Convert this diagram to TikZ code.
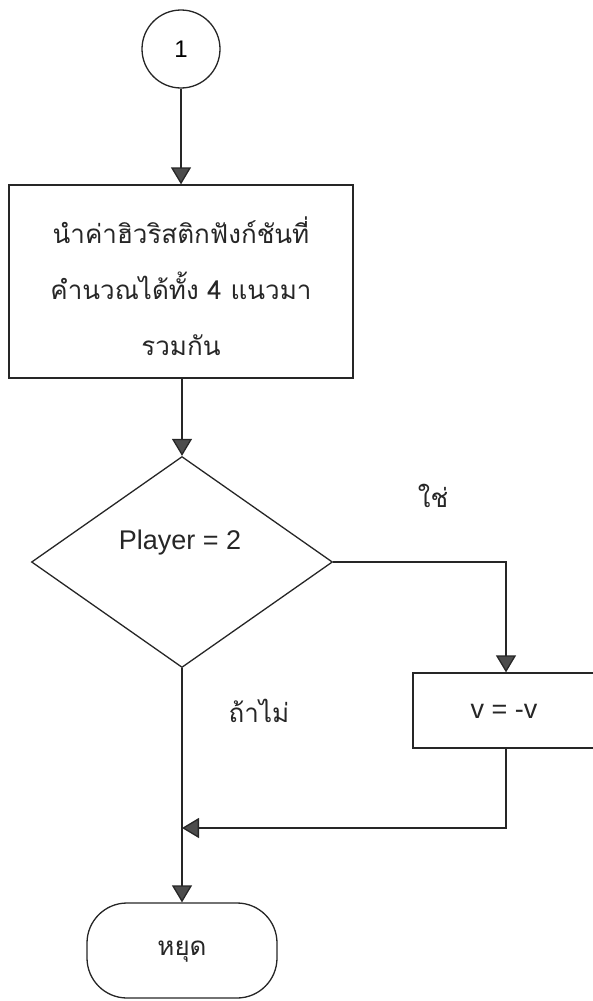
\documentclass[tikz,border=0pt]{standalone}
\usepackage{fontspec}
\setmainfont{Liberation Sans}
\newfontfamily\thaifont[Script=Thai]{Loma}
\usetikzlibrary{shapes.geometric,arrows.meta,calc}

\tikzset{
  ink/.style={draw=black!85, line width=1.3pt},
  flow/.style={ink, -{Triangle[width=20pt,length=17pt,fill=black!70]}},
  connector/.style={ink, circle, minimum size=78pt, inner sep=0pt, font=\fontsize{24}{28}\selectfont},
  procbox/.style={ink, rectangle, inner sep=0pt},
  decision/.style={ink, diamond, inner sep=0pt},
  terminal/.style={ink, rectangle, rounded corners=40pt, inner sep=0pt},
  thaitext/.style={text=black!85, font=\thaifont\fontsize{26}{56}\selectfont, align=center},
  latintext/.style={text=black!85, font=\fontsize{27}{32}\selectfont},
}

\begin{document}
\begin{tikzpicture}[x=1pt, y=-1pt]
  \useasboundingbox (0,0) rectangle (593,1001);
  \clip (0,0) rectangle (593,1001);

  % connector and processing box
  \node[connector] (c1) at (181,49) {1};
  \node[procbox, minimum width=344pt, minimum height=193pt] (b1) at (181,281.5) {};
  \node[thaitext] (b1txt) at (181,286) {นำค่าฮิวริสติกฟังก์ชันที่\\คำนวณได้ทั้ง 4 แนวมา\\รวมกัน};

  % decision
  \node[decision, minimum width=301pt, minimum height=211pt] (d1) at (182,562) {};
  \node[latintext] (d1txt) at (180,543) {Player = 2};
  \node[thaitext] (yes) at (433,496) {ใช่};
  \node[thaitext] (no) at (259,711) {ถ้าไม่};

  % negate branch
  \node[procbox, minimum width=186pt, minimum height=75pt] (b2) at (506,710.5) {};
  \node[latintext, font=\fontsize{27}{32}\selectfont] (b2txt) at (504,711) {v = -v};

  % end
  \node[terminal, minimum width=190pt, minimum height=95pt] (t1) at (182,950.5) {};
  \node[thaitext] (t1txt) at (182,952) {หยุด};

  \coordinate (m) at (182,828);

  \draw[flow] (c1.south) -- (c1.south |- b1.north);
  \draw[flow] (b1.south -| d1.north) -- (d1.north);
  \draw[flow] (d1.east) -| (b2.north);
  \draw[flow] (b2.south) |- (m);
  \draw[flow] (d1.south) -- (t1.north);
\end{tikzpicture}
\end{document}
